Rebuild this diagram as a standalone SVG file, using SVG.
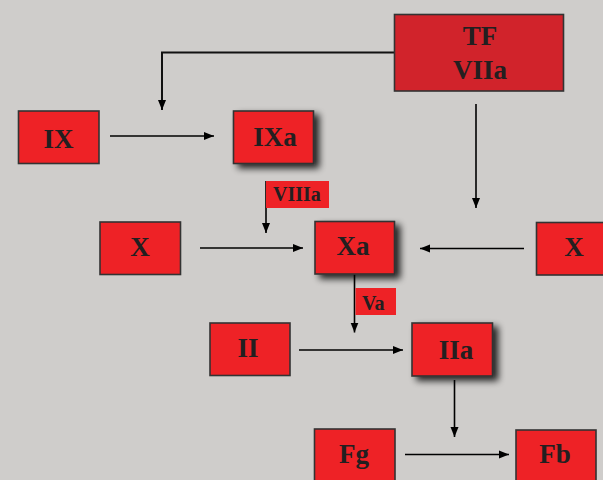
<svg xmlns="http://www.w3.org/2000/svg" width="603" height="480" viewBox="0 0 603 480">
<defs>
<style>
.box{fill:#ee2226;stroke:#333;stroke-width:1.6}
.tf{fill:#d1232b;stroke:#333;stroke-width:1.6}
.lab{fill:#ee2226}
.t{font-family:"Liberation Serif","Times New Roman",serif;font-weight:bold;font-size:27px;fill:#231f20;text-anchor:middle}
.s{font-family:"Liberation Serif","Times New Roman",serif;font-weight:bold;font-size:20px;fill:#231f20}
.c{fill:none;stroke:#000;stroke-width:1.6}
.c2{fill:none;stroke:#111;stroke-width:2}
</style>
<marker id="ah" viewBox="0 0 10 10" refX="10" refY="5" markerWidth="10" markerHeight="10" markerUnits="userSpaceOnUse" orient="auto">
<path d="M0,1 L10,5 L0,9 Z" fill="#000"/>
</marker>
<filter id="sh" x="-30%" y="-30%" width="160%" height="160%">
<feGaussianBlur in="SourceAlpha" stdDeviation="3.5"/>
<feOffset dx="5" dy="4" result="b"/>
<feComponentTransfer><feFuncA type="linear" slope="0.85"/></feComponentTransfer>
<feMerge><feMergeNode/><feMergeNode in="SourceGraphic"/></feMerge>
</filter>
</defs>
<rect width="603" height="480" fill="#cfcdcb"/>
<g id="connectors">
<path class="c2" d="M394,52.5 H162 V110" marker-end="url(#ah)"/>
<path class="c" d="M110,136 H214" marker-end="url(#ah)"/>
<path class="c" d="M476,104 V208" marker-end="url(#ah)"/>
<path class="c" d="M266,181 V233" marker-end="url(#ah)"/>
<path class="c" d="M200,248 H303" marker-end="url(#ah)"/>
<path class="c" d="M524,248.5 H420" marker-end="url(#ah)"/>
<path class="c" d="M354.5,274 V332.5" marker-end="url(#ah)"/>
<path class="c" d="M299,350 H403" marker-end="url(#ah)"/>
<path class="c" d="M454.5,380 V437" marker-end="url(#ah)"/>
<path class="c" d="M405,454.5 H509" marker-end="url(#ah)"/>
</g>
<g id="tfviia"><rect class="tf" x="394.5" y="14.5" width="169" height="76.5"/><text class="t" x="480" y="45">TF</text><text class="t" x="480" y="79">VIIa</text></g>
<g id="ix"><rect class="box" x="18.5" y="111" width="80.5" height="52.5"/><text class="t" x="58.5" y="148">IX</text></g>
<g id="ixa"><rect class="box" x="233.5" y="111" width="80" height="52.5" filter="url(#sh)"/><text class="t" x="275" y="146">IXa</text></g>
<g id="viiia"><rect class="lab" x="266" y="181" width="63" height="27"/><text class="s" x="273" y="201">VIIIa</text></g>
<g id="x-left"><rect class="box" x="100" y="222" width="80.5" height="52.5"/><text class="t" x="140" y="256">X</text></g>
<g id="xa"><rect class="box" x="315" y="221.5" width="79.5" height="52.5" filter="url(#sh)"/><text class="t" x="353" y="255">Xa</text></g>
<g id="x-right"><rect class="box" x="536.5" y="222.5" width="80" height="52.5"/><text class="t" x="574" y="256">X</text></g>
<g id="va"><rect class="lab" x="355.5" y="288" width="40.5" height="27"/><text class="s" x="362" y="310">Va</text></g>
<g id="ii"><rect class="box" x="210" y="323" width="80" height="52.5"/><text class="t" x="248" y="357">II</text></g>
<g id="iia"><rect class="box" x="412" y="323" width="80.5" height="53" filter="url(#sh)"/><text class="t" x="456" y="359">IIa</text></g>
<g id="fg"><rect class="box" x="314.5" y="429" width="80.5" height="53"/><text class="t" x="354" y="463">Fg</text></g>
<g id="fb"><rect class="box" x="516" y="430" width="80" height="53"/><text class="t" x="555" y="463">Fb</text></g>
</svg>
